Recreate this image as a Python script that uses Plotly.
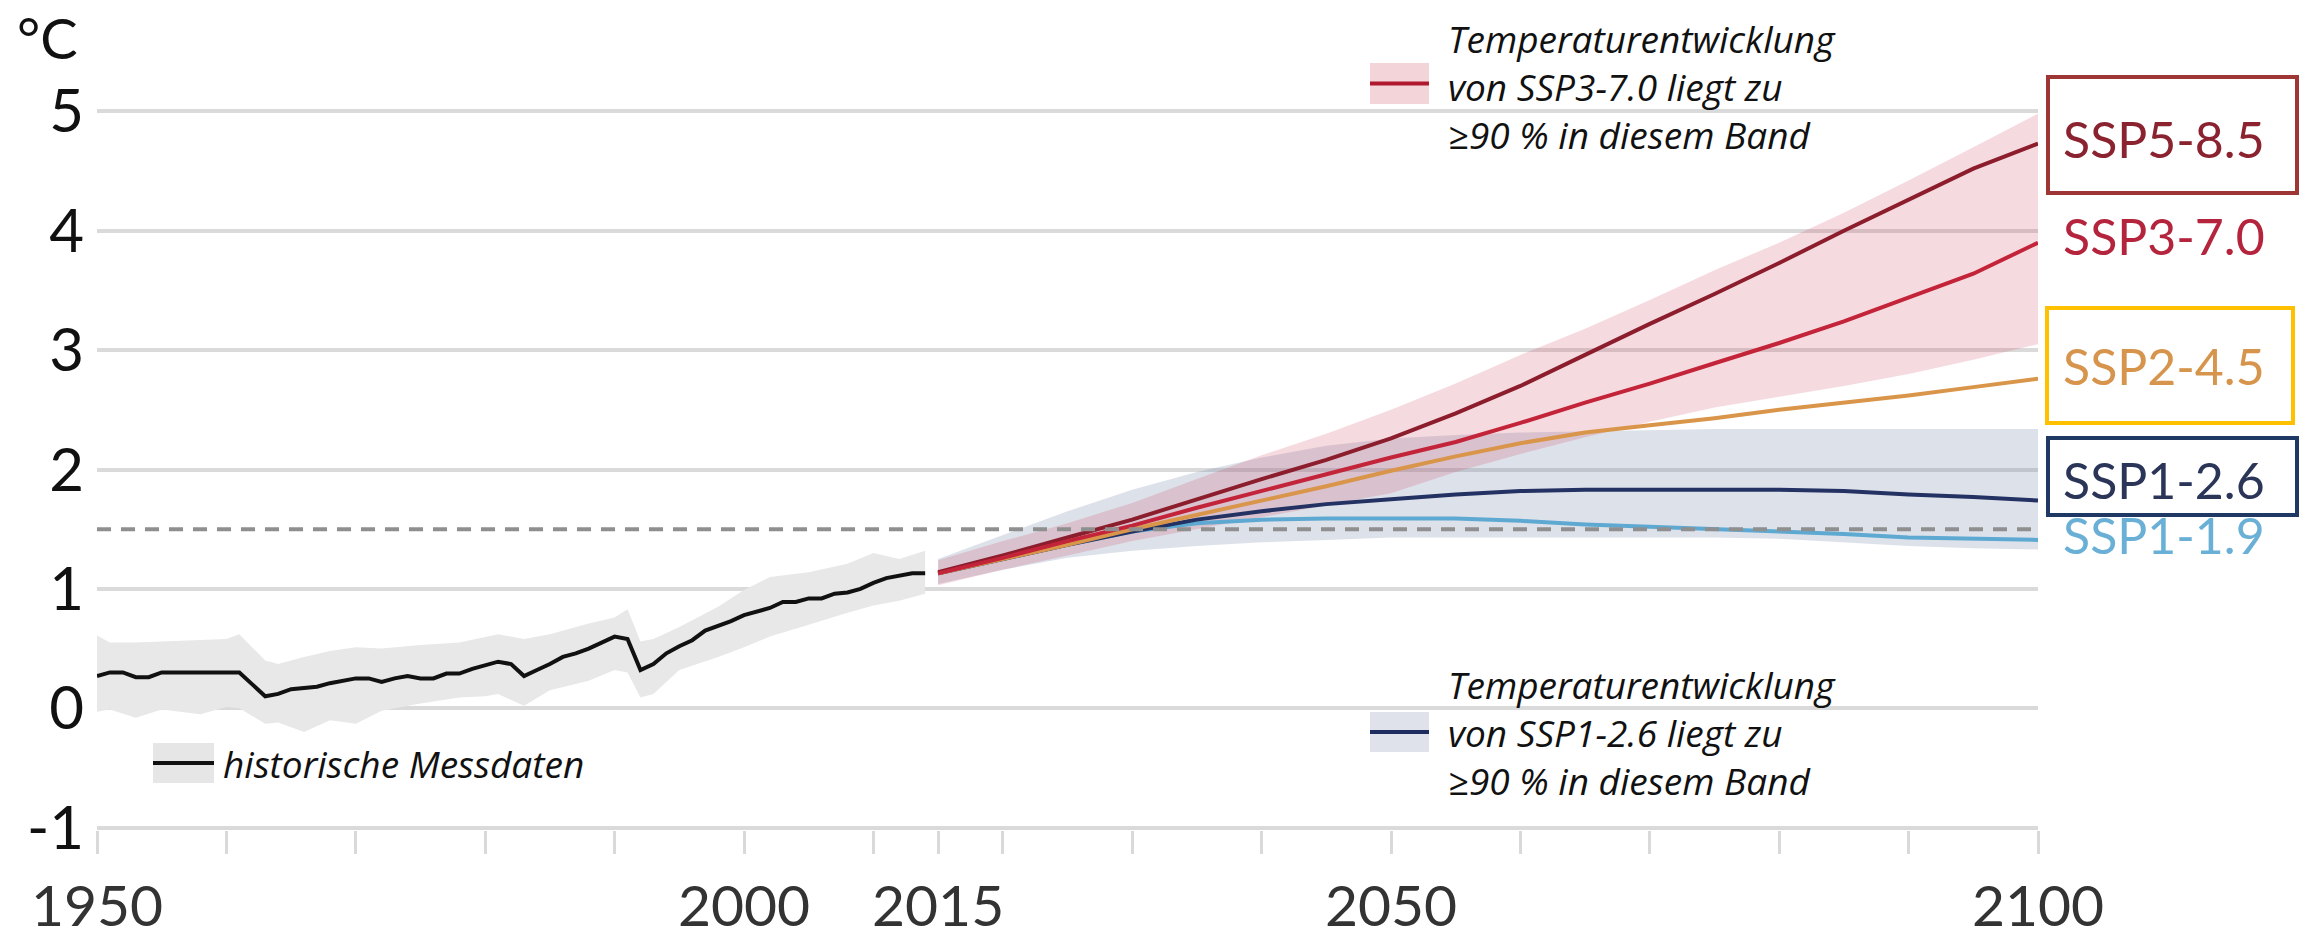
import plotly.graph_objects as go

# historical observations (1950-2014)
hist_years = list(range(1950, 2015))
hist_temp = [0.27, 0.30, 0.30, 0.26, 0.26, 0.30, 0.30, 0.30, 0.30, 0.30,
             0.30, 0.30, 0.20, 0.10, 0.12, 0.16, 0.17, 0.18, 0.21, 0.23,
             0.25, 0.25, 0.22, 0.25, 0.27, 0.25, 0.25, 0.29, 0.29, 0.33,
             0.36, 0.39, 0.37, 0.27, 0.32, 0.37, 0.43, 0.46, 0.50, 0.55,
             0.60, 0.58, 0.32, 0.37, 0.46, 0.52, 0.57, 0.65, 0.69, 0.73,
             0.78, 0.81, 0.84, 0.89, 0.89, 0.92, 0.92, 0.96, 0.97, 1.00,
             1.05, 1.09, 1.11, 1.13, 1.13]

hist_band_years = [1950, 1951, 1953, 1955, 1958, 1960, 1961, 1963, 1964, 1966,
                   1968, 1970, 1972, 1975, 1978, 1980, 1981, 1983, 1985, 1988,
                   1990, 1991, 1992, 1993, 1995, 1998, 2000, 2002, 2005, 2008,
                   2010, 2012, 2014]
hist_upper = [0.61, 0.55, 0.55, 0.56, 0.57, 0.58, 0.62, 0.40, 0.37, 0.43,
              0.48, 0.51, 0.50, 0.53, 0.55, 0.60, 0.62, 0.58, 0.62, 0.71,
              0.76, 0.83, 0.56, 0.58, 0.68, 0.85, 0.99, 1.10, 1.14, 1.21,
              1.30, 1.25, 1.32]
hist_lower = [-0.03, -0.01, -0.08, -0.01, -0.05, 0.01, 0.00, -0.13, -0.12, -0.20,
              -0.10, -0.13, -0.02, 0.04, 0.09, 0.10, 0.12, 0.02, 0.15, 0.23,
              0.32, 0.30, 0.09, 0.12, 0.32, 0.43, 0.51, 0.60, 0.70, 0.80,
              0.86, 0.90, 0.96]

# scenario projections (2015-2100)
proj_years = list(range(2015, 2101, 5))
ssp585 = [1.14, 1.28, 1.43, 1.58, 1.75, 1.92, 2.08, 2.26, 2.47, 2.70,
          2.96, 3.22, 3.47, 3.73, 4.00, 4.26, 4.52, 4.73]
ssp370 = [1.13, 1.26, 1.40, 1.53, 1.68, 1.82, 1.96, 2.10, 2.23, 2.39,
          2.56, 2.72, 2.89, 3.06, 3.24, 3.44, 3.64, 3.90]
ssp245 = [1.13, 1.25, 1.37, 1.50, 1.62, 1.74, 1.86, 1.99, 2.11, 2.22,
          2.31, 2.37, 2.43, 2.50, 2.56, 2.62, 2.69, 2.76]
ssp126 = [1.13, 1.25, 1.37, 1.48, 1.58, 1.65, 1.71, 1.75, 1.79, 1.82,
          1.83, 1.83, 1.83, 1.83, 1.82, 1.79, 1.77, 1.74]
ssp119 = [1.13, 1.25, 1.37, 1.48, 1.55, 1.58, 1.59, 1.59, 1.59, 1.57,
          1.54, 1.52, 1.50, 1.48, 1.46, 1.43, 1.42, 1.41]

# very likely ranges
ssp370_upper = [1.24, 1.40, 1.55, 1.72, 1.92, 2.12, 2.30, 2.50, 2.72, 2.96,
                3.18, 3.42, 3.67, 3.90, 4.15, 4.42, 4.70, 4.98]
ssp370_lower = [1.03, 1.16, 1.28, 1.40, 1.50, 1.60, 1.70, 1.80, 1.98, 2.13,
                2.27, 2.40, 2.52, 2.61, 2.70, 2.80, 2.92, 3.05]
ssp126_upper = [1.25, 1.45, 1.65, 1.83, 1.98, 2.10, 2.20, 2.26, 2.29, 2.31,
                2.32, 2.33, 2.34, 2.34, 2.34, 2.34, 2.34, 2.34]
ssp126_lower = [1.04, 1.16, 1.26, 1.32, 1.36, 1.39, 1.41, 1.43, 1.43, 1.43,
                1.43, 1.43, 1.43, 1.42, 1.39, 1.36, 1.34, 1.33]

threshold = 1.5

x_ticks = [1950, 1960, 1970, 1980, 1990, 2000, 2010, 2015, 2020, 2030,
           2040, 2050, 2060, 2070, 2080, 2090, 2100]
x_labels = ["1950", "", "", "", "", "2000", "", "2015", "", "",
            "", "2050", "", "", "", "", "2100"]
y_ticks = [-1, 0, 1, 2, 3, 4, 5]
y_labels = ["-1", "0", "1", "2", "3", "4", "5"]

scenarios = [
    # name, values, line colour, label colour, label y
    ("SSP1-1.9", ssp119, "#5ea9d2", "#6ab0d6", 1.45),
    ("SSP1-2.6", ssp126, "#233262", "#2b3558", 1.91),
    ("SSP2-4.5", ssp245, "#d9954a", "#d6944c", 2.87),
    ("SSP5-8.5", ssp585, "#8c1d2c", "#8a2230", 4.77),
    ("SSP3-7.0", ssp370, "#c42439", "#b4243c", 3.96),
]

# pixel layout of the plot area (range padded a little so edge gridlines show)
W, H = 2310, 941
L, R, T, B = 97, 2038, 109, 830
Y_RANGE = [-1.02, 5.02]


def px_x(p):
    return (p - L) / (R - L)


def px_y(p):
    return (B - p) / (B - T)


fig = go.Figure()

fig.add_trace(go.Scatter(
    x=hist_band_years + hist_band_years[::-1],
    y=hist_upper + hist_lower[::-1],
    fill="toself", fillcolor="#e8e8e8", line=dict(width=0),
    mode="lines", hoverinfo="skip", showlegend=False))
fig.add_trace(go.Scatter(
    x=hist_years, y=hist_temp, mode="lines",
    line=dict(color="#111111", width=4), showlegend=False))

fig.add_trace(go.Scatter(
    x=proj_years + proj_years[::-1],
    y=ssp126_upper + ssp126_lower[::-1],
    fill="toself", fillcolor="rgba(120,135,170,0.25)", line=dict(width=0),
    mode="lines", hoverinfo="skip", showlegend=False))
fig.add_trace(go.Scatter(
    x=proj_years + proj_years[::-1],
    y=ssp370_upper + ssp370_lower[::-1],
    fill="toself", fillcolor="rgba(205,70,95,0.2)", line=dict(width=0),
    mode="lines", hoverinfo="skip", showlegend=False))

for name, vals, lc, tc, ly in scenarios:
    fig.add_trace(go.Scatter(x=proj_years, y=vals, mode="lines", name=name,
                             line=dict(color=lc, width=4), showlegend=False))
    fig.add_annotation(x=px_x(2061), xref="paper", y=ly, yref="y",
                       text=name, showarrow=False, xanchor="left", yanchor="middle",
                       font=dict(family="Lato", size=50, color=tc))

fig.add_hline(y=threshold, line=dict(color="#8f8f8f", width=4, dash="14px,10px"))

# label boxes (pixel positions)
boxes = [
    ((2048, 77, 2297, 193), "#9e3636"),
    ((2047, 308, 2293, 423), "#ffc000"),
    ((2048, 438, 2297, 515), "#1f3864"),
]
for (x0, y0, x1, y1), col in boxes:
    fig.add_shape(type="rect", xref="paper", yref="paper",
                  x0=px_x(x0), x1=px_x(x1), y0=px_y(y0), y1=px_y(y1),
                  line=dict(color=col, width=4), fillcolor="rgba(0,0,0,0)")

# legend swatches and texts
legends = [
    ((1370, 63, 1429, 104), "#f2d4d9", "#b0182e",
     ["Temperaturentwicklung", "von SSP3-7.0 liegt zu", "≥90 % in diesem Band"],
     1446, [38, 86, 134]),
    ((1370, 712, 1429, 752), "#dfe2ea", "#1f2d5e",
     ["Temperaturentwicklung", "von SSP1-2.6 liegt zu", "≥90 % in diesem Band"],
     1446, [684, 732, 780]),
    ((153, 743, 214, 783), "#e6e6e6", "#111111",
     ["historische Messdaten"], 221, [763]),
]
for (x0, y0, x1, y1), fc, lc, lines, tx, tys in legends:
    fig.add_shape(type="rect", xref="paper", yref="paper",
                  x0=px_x(x0), x1=px_x(x1), y0=px_y(y0), y1=px_y(y1),
                  line=dict(width=0), fillcolor=fc)
    fig.add_shape(type="line", xref="paper", yref="paper",
                  x0=px_x(x0), x1=px_x(x1), y0=px_y((y0 + y1) / 2), y1=px_y((y0 + y1) / 2),
                  line=dict(color=lc, width=4))
    for txt, ty in zip(lines, tys):
        fig.add_annotation(x=px_x(tx), xref="paper", y=px_y(ty), yref="paper",
                           text=txt, showarrow=False, xanchor="left", yanchor="middle",
                           font=dict(family="Open Sans", size=37, color="#111111",
                                     style="italic"))

fig.add_annotation(x=px_x(47), xref="paper", y=px_y(37), yref="paper",
                   text="°C", showarrow=False, xanchor="center", yanchor="middle",
                   font=dict(family="Lato", size=56, color="#111111"))

fig.update_layout(
    width=W, height=H,
    margin=dict(l=L, r=W - R, t=T, b=H - B, pad=0, autoexpand=False),
    plot_bgcolor="white", paper_bgcolor="white",
    font=dict(family="Lato", color="#111111"),
    xaxis=dict(range=[1950, 2100], tickvals=x_ticks, ticktext=x_labels,
               ticks="outside", ticklen=23, tickwidth=3, tickcolor="#d9d9d9",
               tickfont=dict(size=57, color="#333333"), ticklabelstandoff=4,
               showgrid=False, zeroline=False, showline=False, automargin=False),
    yaxis=dict(range=Y_RANGE, tickvals=y_ticks, ticktext=y_labels,
               tickfont=dict(size=60, color="#111111"), ticklabelstandoff=12,
               showgrid=True, gridcolor="#dadada", gridwidth=4,
               zeroline=False, showline=False, automargin=False),
)

# the page body has a default 8px margin; remove it so the figure sits at 0,0
fig.write_html("out.html", config={"displayModeBar": False},
               post_script="document.body.style.margin = '0';")
